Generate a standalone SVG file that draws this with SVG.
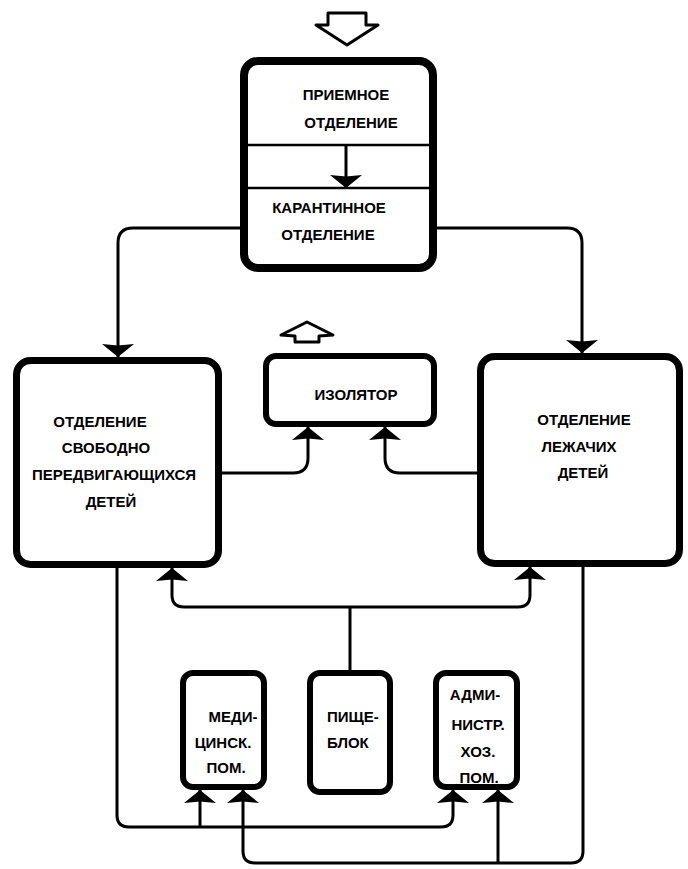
<svg xmlns="http://www.w3.org/2000/svg" width="688" height="869" viewBox="0 0 688 869">
<style>
.box{fill:#fff;stroke:#000;}
.big{stroke-width:7;}
.sm{stroke-width:6;}
.ln{fill:none;stroke:#000;stroke-width:3;}
.arr{fill:none;stroke:#000;stroke-width:3;marker-end:url(#ah);}
.hol{fill:#fff;stroke:#000;stroke-width:3;stroke-linejoin:round;}
text{font-family:"Liberation Sans",Arial,sans-serif;font-weight:bold;font-size:15px;fill:#000;}
.m{text-anchor:middle;}
</style>
<defs>
<marker id="ah" viewBox="0 0 13 32" refX="13" refY="16" markerWidth="13" markerHeight="32" markerUnits="userSpaceOnUse" orient="auto">
<path d="M0,0 L13,16 L0,32 L1.5,16 z" fill="#000"/>
</marker>
</defs>
<rect width="688" height="869" fill="#fff"/>

<g id="entry-arrow">
<polygon class="hol" points="328,13 366,13 366,25 378,25 347,45 316,25 328,25"/>
</g>

<g id="top-block">
<rect class="box" x="244" y="61" width="189" height="207" rx="14" stroke-width="8"/>
<line x1="246" y1="145" x2="431" y2="145" stroke="#000" stroke-width="2.5"/>
<line x1="246" y1="188" x2="431" y2="188" stroke="#000" stroke-width="2.5"/>
<path class="arr" d="M346,146 V188"/>
<text x="346" y="100" class="m">ПРИЕМНОЕ</text>
<text x="351" y="128" class="m">ОТДЕЛЕНИЕ</text>
<text x="329" y="213" class="m">КАРАНТИННОЕ</text>
<text x="328" y="240" class="m">ОТДЕЛЕНИЕ</text>
</g>

<g id="isolator">
<polygon class="hol" points="307,322 333,335 319,336 319,342 295,342 295,336 281,335"/>
<rect class="box sm" x="266" y="356" width="168" height="68" rx="10"/>
<text x="356" y="400" class="m">ИЗОЛЯТОР</text>
</g>

<g id="free-children">
<rect class="box big" x="16.5" y="360.5" width="202" height="204" rx="14"/>
<text x="100" y="427" class="m">ОТДЕЛЕНИЕ</text>
<text x="106" y="453" class="m">СВОБОДНО</text>
<text x="114" y="480" class="m">ПЕРЕДВИГАЮЩИХСЯ</text>
<text x="111" y="507" class="m">ДЕТЕЙ</text>
</g>

<g id="bed-children">
<rect class="box big" x="480.5" y="356.5" width="199" height="207" rx="14"/>
<text x="584" y="425" class="m">ОТДЕЛЕНИЕ</text>
<text x="579" y="452" class="m">ЛЕЖАЧИХ</text>
<text x="583" y="478" class="m">ДЕТЕЙ</text>
</g>

<g id="medical">
<rect class="box sm" x="183" y="673" width="81" height="114" rx="10"/>
<text x="233" y="722" class="m">МЕДИ-</text>
<text x="223" y="748" class="m">ЦИНСК.</text>
<text x="226" y="773" class="m">ПОМ.</text>
</g>

<g id="kitchen">
<rect class="box sm" x="310" y="673" width="80" height="119" rx="10"/>
<text x="327" y="722">ПИЩЕ-</text>
<text x="327" y="748">БЛОК</text>
</g>

<g id="admin">
<rect class="box sm" x="436" y="673" width="81" height="114" rx="10"/>
<text x="475" y="700" class="m">АДМИ-</text>
<text x="478" y="730" class="m">НИСТР.</text>
<text x="478" y="757" class="m">ХОЗ.</text>
<text x="479" y="783" class="m">ПОМ.</text>
</g>

<g id="connectors">
<path class="arr" d="M240,228 H133 Q118,228 118,243 V357"/>
<path class="arr" d="M437,228 H567 Q582,228 582,243 V353"/>
<path class="arr" d="M219,473 H293 Q308,473 308,458 V427"/>
<path class="arr" d="M480,473 H400 Q385,473 385,458 V427"/>
<path class="ln" d="M350,670 V607"/>
<path class="arr" d="M350,607 H184 Q172,607 172,595 V568"/>
<path class="arr" d="M350,607 H518 Q530,607 530,595 V567"/>
<path class="arr" d="M117,568 V815 Q117,827 129,827 H441 Q453,827 453,815 V790"/>
<path class="arr" d="M200,827 V790"/>
<path class="arr" d="M583,567 V851 Q583,863 571,863 H255 Q243,863 243,851 V790"/>
<path class="arr" d="M498,863 V790"/>
</g>
</svg>
